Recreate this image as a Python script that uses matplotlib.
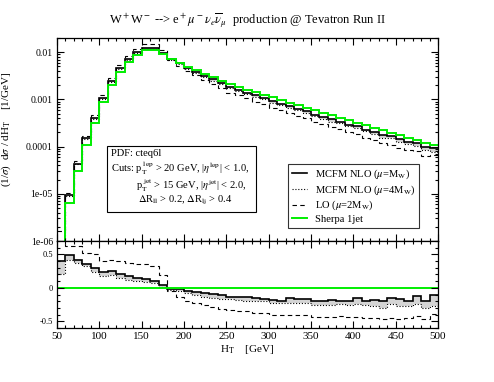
"""
W+W- -> e+ mu- nu nubar, H_T distribution at Tevatron Run II.
Upper panel: normalised distributions (log scale).
Lower panel: relative difference of each prediction to Sherpa 1jet.
"""
import numpy as np
import matplotlib
matplotlib.use("Agg")
import matplotlib.pyplot as plt
from matplotlib.lines import Line2D
from matplotlib.patches import Rectangle
from matplotlib.ticker import MultipleLocator, LogLocator, NullFormatter

plt.rcParams["font.family"] = ["Liberation Serif", "DejaVu Serif"]
plt.rcParams["mathtext.fontset"] = "stix"

# ---- Data ------------------------------------------------------------------
# 10 GeV bins from 50 to 500 GeV
HT_EDGES = np.arange(50, 510, 10)

# Sherpa 1jet, (1/sigma) dsigma/dH_T  [1/GeV], one value per bin
SHERPA = [6.0e-7, 6.3e-6, 3.1e-5, 1.10e-4, 3.1e-4, 8.8e-4, 2.0e-3, 3.8e-3,
          6.1e-3, 8.8e-3, 1.10e-2, 1.12e-2, 9.3e-3, 7.2e-3, 5.9e-3, 4.9e-3,
          4.12e-3, 3.47e-3, 2.95e-3, 2.48e-3, 2.09e-3, 1.84e-3, 1.62e-3,
          1.43e-3, 1.26e-3, 1.11e-3, 9.8e-4, 8.6e-4, 7.6e-4, 6.7e-4, 5.9e-4,
          5.2e-4, 4.6e-4, 4.1e-4, 3.6e-4, 3.2e-4, 2.83e-4, 2.5e-4, 2.22e-4,
          1.96e-4, 1.74e-4, 1.54e-4, 1.36e-4, 1.2e-4, 1.07e-4]

# relative difference to Sherpa
REL_NLO_MW = [0.40, 0.485, 0.41, 0.36, 0.29, 0.24, 0.25, 0.20, 0.17, 0.15,
              0.13, 0.10, 0.04, -0.01, -0.02, -0.04, -0.06, -0.08, -0.09,
              -0.11, -0.13, -0.13, -0.14, -0.15, -0.16, -0.18, -0.19, -0.15,
              -0.17, -0.17, -0.20, -0.19, -0.18, -0.20, -0.19, -0.15, -0.19,
              -0.18, -0.20, -0.15, -0.17, -0.19, -0.12, -0.20, -0.11]
REL_NLO_4MW = [0.20, 0.41, 0.37, 0.32, 0.24, 0.17, 0.19, 0.14, 0.12, 0.10,
               0.08, 0.07, 0.02, -0.03, -0.05, -0.08, -0.11, -0.13, -0.15,
               -0.16, -0.17, -0.18, -0.19, -0.20, -0.20, -0.23, -0.23, -0.22,
               -0.23, -0.23, -0.26, -0.25, -0.26, -0.24, -0.25, -0.24, -0.25,
               -0.27, -0.30, -0.24, -0.27, -0.27, -0.24, -0.30, -0.27]
REL_LO_2MW = [1.70, 0.62, 0.62, 0.52, 0.50, 0.40, 0.42, 0.40, 0.37, 0.36,
              0.35, 0.33, 0.19, -0.05, -0.14, -0.19, -0.22, -0.25, -0.29,
              -0.31, -0.33, -0.34, -0.35, -0.37, -0.38, -0.40, -0.40, -0.40,
              -0.41, -0.41, -0.44, -0.43, -0.43, -0.42, -0.44, -0.43, -0.45,
              -0.45, -0.46, -0.45, -0.46, -0.45, -0.42, -0.47, -0.39]

LEGEND_LABELS = [r"MCFM NLO ($\mu$=M$_\mathrm{W}$)",
                 r"MCFM NLO ($\mu$=4M$_\mathrm{W}$)",
                 r"LO ($\mu$=2M$_\mathrm{W}$)",
                 "Sherpa 1jet"]

GREEN = "#00ee00"
BAND = "#d4d4d4"
DASH = (0, (4, 3))
DOT = (0, (1, 1.6))


def style_axis(ax):
    ax.tick_params(which="both", direction="in", top=True, right=True,
                   width=0.8, pad=3)
    ax.tick_params(which="major", length=5)
    ax.tick_params(which="minor", length=2.5)
    for s in ax.spines.values():
        s.set_linewidth(0.9)


def main():
    sherpa = np.array(SHERPA)
    # absolute curves in the upper panel = Sherpa * (1 + relative difference)
    nlo = sherpa * (1 + np.array(REL_NLO_MW))
    nlo4 = sherpa * (1 + np.array(REL_NLO_4MW))
    lo = sherpa * (1 + np.array(REL_LO_2MW))

    fig = plt.figure(figsize=(4.94, 3.82), dpi=100)
    ax = fig.add_axes([0.1154, 0.3691, 0.7713, 0.5314])
    ax2 = fig.add_axes([0.1154, 0.1414, 0.7713, 0.2277], sharex=ax)

    # ---- upper panel ----
    ax.stairs(nlo4, HT_EDGES, baseline=nlo, fill=True, color=BAND, lw=0)
    ax.stairs(lo, HT_EDGES, baseline=None, color="k", lw=0.8, ls=DASH)
    ax.stairs(nlo4, HT_EDGES, baseline=None, color="k", lw=0.8, ls=DOT)
    ax.stairs(nlo, HT_EDGES, baseline=None, color="k", lw=1.2)
    ax.stairs(sherpa, HT_EDGES, baseline=None, color=GREEN, lw=1.4)
    ax.set_yscale("log")
    ax.set_ylim(1e-6, 0.02)
    ax.set_xlim(50, 500)
    ax.yaxis.set_minor_locator(LogLocator(base=10, subs=np.arange(2, 10), numticks=20))
    ax.yaxis.set_minor_formatter(NullFormatter())
    ax.set_yticks([1e-6, 1e-5, 1e-4, 1e-3, 1e-2])
    ax.set_yticklabels(["1e-06", "1e-05", "0.0001", "0.001", "0.01"], fontsize=7)
    ax.xaxis.set_major_locator(MultipleLocator(50))
    ax.xaxis.set_minor_locator(MultipleLocator(10))
    ax.tick_params(axis="x", labelbottom=False)
    style_axis(ax)
    ax.set_ylabel(r"(1/$\sigma$)  d$\sigma$ / dH$_\mathrm{T}$    [1/GeV]", fontsize=8)
    ax.yaxis.set_label_coords(-0.115, 0.55)
    ax.set_title(r"W$^+$W$^-$ --> e$^+\mu^-\nu_e\overline{\nu}_\mu$  production @ Tevatron Run II",
                 fontsize=9, pad=10)

    # legend
    handles = [Line2D([], [], color="k", lw=1.2),
               Line2D([], [], color="k", lw=0.8, ls=DOT),
               Line2D([], [], color="k", lw=0.8, ls=DASH),
               Line2D([], [], color=GREEN, lw=1.4)]
    leg = ax.legend(handles, LEGEND_LABELS, loc="upper left",
                    bbox_to_anchor=(0.606, 0.379), fontsize=7.6,
                    frameon=True, fancybox=False, handlelength=1.5,
                    handletextpad=0.7, borderpad=0.35, labelspacing=0.2,
                    borderaxespad=0)
    leg.get_frame().set_edgecolor("k")
    leg.get_frame().set_linewidth(0.8)

    # cuts box
    ax.add_patch(Rectangle((0.131, 0.143), 0.391, 0.325, transform=ax.transAxes,
                           fill=True, facecolor="white", edgecolor="k", lw=0.8, zorder=5))
    fs = 7.6
    ax.text(0.142, 0.433, "PDF: cteq6l", transform=ax.transAxes, fontsize=fs,
            va="center", zorder=6)
    ax.text(0.142, 0.358, r"Cuts: p$_\mathrm{T}^{\ \mathrm{lep}}$ > 20 GeV, |$\eta^\mathrm{lep}$| < 1.0,",
            transform=ax.transAxes, fontsize=fs, va="center", zorder=6)
    ax.text(0.207, 0.274, r"p$_\mathrm{T}^{\ \mathrm{jet}}$ > 15 GeV, |$\eta^\mathrm{jet}$| < 2.0,",
            transform=ax.transAxes, fontsize=fs, va="center", zorder=6)
    ax.text(0.212, 0.198, r"$\Delta$R$_\mathrm{ll}$ > 0.2, $\Delta$R$_\mathrm{lj}$ > 0.4",
            transform=ax.transAxes, fontsize=fs, va="center", zorder=6)

    # ---- lower panel: relative difference to Sherpa ----
    ax2.stairs(REL_NLO_4MW, HT_EDGES, baseline=REL_NLO_MW, fill=True, color=BAND, lw=0)
    ax2.stairs(REL_LO_2MW, HT_EDGES, baseline=None, color="k", lw=0.8, ls=DASH)
    ax2.stairs(REL_NLO_4MW, HT_EDGES, baseline=None, color="k", lw=0.8, ls=DOT)
    ax2.stairs(REL_NLO_MW, HT_EDGES, baseline=None, color="k", lw=1.2)
    ax2.stairs(sherpa / sherpa - 1, HT_EDGES, baseline=None, color=GREEN, lw=1.4)
    ax2.set_ylim(-0.6, 0.7)
    ax2.set_xlim(50, 500)
    ax2.yaxis.set_minor_locator(MultipleLocator(0.1))
    ax2.set_yticks([-0.5, 0, 0.5])
    ax2.set_yticklabels(["-0.5", "0", "0.5"], fontsize=6)
    ax2.xaxis.set_major_locator(MultipleLocator(50))
    ax2.xaxis.set_minor_locator(MultipleLocator(10))
    ax2.tick_params(axis="x", labelsize=8)
    style_axis(ax2)
    ax2.set_xlabel(r"H$_\mathrm{T}$    [GeV]", fontsize=8, labelpad=1)

    fig.savefig("out.png", dpi=100)
    plt.close(fig)


if __name__ == "__main__":
    main()
